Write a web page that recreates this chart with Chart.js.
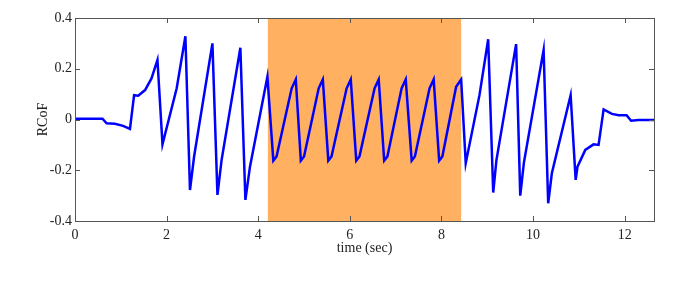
<!DOCTYPE html>
<html>
<head>
<meta charset="utf-8">
<script src="https://cdn.jsdelivr.net/npm/chart.js@4"></script>
<style>
  html, body { margin: 0; padding: 0; background: #fff; }
  #wrap { width: 699px; height: 306px; }
</style>
</head>
<body>
<div id="wrap"><canvas id="rcofChart" width="699" height="306"></canvas></div>
<script>
// time (sec) and RCoF
const timeSec = [
    0.00, 0.60, 0.69, 0.87, 1.05, 1.20, 1.29, 1.38, 1.53, 1.67, 1.80,
    1.91, 2.22, 2.41, 2.51, 2.60, 3.00, 3.11, 3.20, 3.61, 3.72, 3.82, 4.20,
    4.33, 4.40, 4.73, 4.82,
    4.93, 5.00, 5.32, 5.41,
    5.53, 5.60, 5.93, 6.02,
    6.14, 6.21, 6.54, 6.63,
    6.75, 6.82, 7.13, 7.22,
    7.35, 7.42, 7.74, 7.83,
    7.95, 8.02, 8.32, 8.43,
    8.53, 8.83, 9.02, 9.13, 9.20, 9.63, 9.72, 9.80, 10.23, 10.33, 10.41,
    10.82, 10.93, 10.97, 11.14, 11.32, 11.43, 11.54, 11.72, 11.87, 12.04,
    12.14, 12.30, 12.64
];
const rcof = [
    0.003, 0.003, -0.015, -0.017, -0.025, -0.037, 0.096, 0.094, 0.116, 0.162, 0.235,
    -0.098, 0.123, 0.328, -0.278, -0.146, 0.300, -0.297, -0.160, 0.283, -0.317, -0.186, 0.168,
    -0.162, -0.146, 0.123, 0.158,
    -0.162, -0.146, 0.123, 0.158,
    -0.162, -0.146, 0.123, 0.158,
    -0.162, -0.146, 0.123, 0.158,
    -0.162, -0.146, 0.123, 0.158,
    -0.162, -0.146, 0.123, 0.158,
    -0.162, -0.146, 0.129, 0.158,
    -0.172, 0.096, 0.316, -0.288, -0.160, 0.297, -0.300, -0.170, 0.274, -0.330, -0.212,
    0.096, -0.238, -0.186, -0.120, -0.098, -0.100, 0.040, 0.022, 0.017, 0.017,
    -0.005, -0.002, -0.002
];

// shaded interval (sec)
const bandStart = 4.21;
const bandEnd = 8.43;

const xTicks = [0, 2, 4, 6, 8, 10, 12];
const yTicks = [-0.4, -0.2, 0, 0.2, 0.4];

const points = [];
for (let i = 0; i < timeSec.length; i++) {
    points.push({ x: timeSec[i], y: rcof[i] });
}

const FONT = "'Liberation Serif', 'DejaVu Serif', serif";

// orange band behind the line
const bandPlugin = {
    id: 'band',
    beforeDatasetsDraw(chart) {
        const ctx = chart.ctx;
        const xs = chart.scales.x;
        const a = chart.chartArea;
        const x1 = xs.getPixelForValue(bandStart);
        const x2 = xs.getPixelForValue(bandEnd);
        ctx.save();
        ctx.fillStyle = '#ffb060';
        ctx.fillRect(x1, a.top, x2 - x1, a.bottom - a.top);
        ctx.restore();
    }
};

// matlab style box with inward ticks
const boxPlugin = {
    id: 'box',
    afterDraw(chart) {
        const ctx = chart.ctx;
        const a = chart.chartArea;
        const xs = chart.scales.x;
        const ys = chart.scales.y;
        const len = 5;
        ctx.save();
        ctx.strokeStyle = '#555';
        ctx.lineWidth = 1;
        ctx.beginPath();
        xTicks.forEach(v => {
            const px = Math.round(xs.getPixelForValue(v)) + 0.5;
            ctx.moveTo(px, a.bottom);
            ctx.lineTo(px, a.bottom - len);
            ctx.moveTo(px, a.top);
            ctx.lineTo(px, a.top + len);
        });
        yTicks.forEach(v => {
            const py = Math.round(ys.getPixelForValue(v)) + 0.5;
            ctx.moveTo(a.left, py);
            ctx.lineTo(a.left + len, py);
            ctx.moveTo(a.right, py);
            ctx.lineTo(a.right - len, py);
        });
        ctx.stroke();
        ctx.strokeRect(Math.round(a.left) + 0.5, Math.round(a.top) + 0.5,
            Math.round(a.right - a.left), Math.round(a.bottom - a.top));
        ctx.restore();
    }
};

const ctx1 = document.getElementById('rcofChart').getContext('2d');
const rcofChart = new Chart(ctx1, {
    type: 'line',
    data: {
        datasets: [{
            label: 'RCoF',
            data: points,
            borderColor: '#0000ff',
            borderWidth: 2.5,
            pointRadius: 0,
            tension: 0,
            fill: false
        }]
    },
    options: {
        responsive: false,
        animation: false,
        events: [],
        layout: {
            padding: { left: 31, top: 18, right: 45, bottom: 45 }
        },
        plugins: {
            legend: { display: false },
            tooltip: { enabled: false }
        },
        scales: {
            x: {
                type: 'linear',
                min: 0,
                max: 12.64,
                afterBuildTicks: (axis) => { axis.ticks = xTicks.map(v => ({ value: v })); },
                ticks: {
                    color: '#222',
                    font: { family: FONT, size: 14 },
                    padding: 6,
                    maxRotation: 0,
                    callback: (v) => String(v)
                },
                grid: { display: false, drawTicks: false },
                border: { display: false },
                title: {
                    display: true,
                    text: 'time (sec)',
                    color: '#222',
                    font: { family: FONT, size: 14 },
                    padding: { top: 4, bottom: 4 }
                },
                afterFit: (axis) => { axis.height = 40; }
            },
            y: {
                min: -0.4,
                max: 0.4,
                afterBuildTicks: (axis) => { axis.ticks = yTicks.map(v => ({ value: v })); },
                ticks: {
                    color: '#222',
                    font: { family: FONT, size: 14 },
                    padding: 3,
                    callback: (v) => String(Math.round(v * 10) / 10)
                },
                grid: { display: false, drawTicks: false },
                border: { display: false },
                title: {
                    display: true,
                    text: 'RCoF',
                    color: '#222',
                    font: { family: FONT, size: 14 },
                    padding: { top: 4, bottom: 4 }
                },
                afterFit: (axis) => { axis.width = 44; }
            }
        }
    },
    plugins: [bandPlugin, boxPlugin]
});
</script>
</body>
</html>
